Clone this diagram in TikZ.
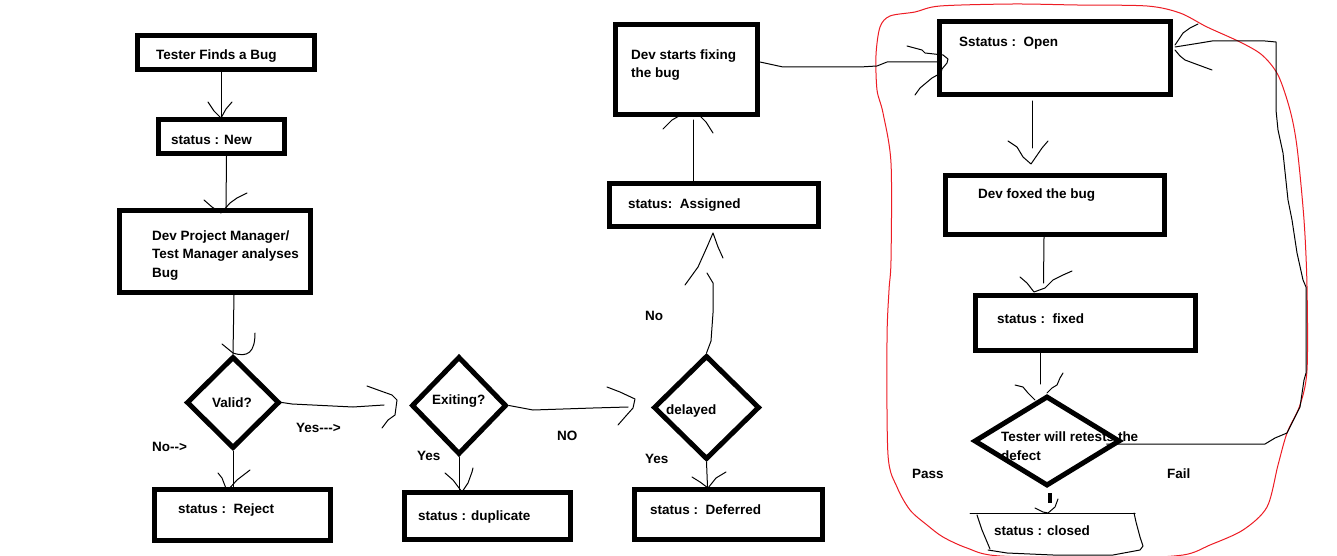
\documentclass[tikz,border=0pt]{standalone}
\usepackage{fontspec}
\setmainfont{Liberation Sans}
\usetikzlibrary{shapes.geometric,calc}
\definecolor{paintred}{RGB}{237,28,36}
\begin{document}
\begin{tikzpicture}[x=1pt,y=-1pt,
  box/.style={draw, rectangle, line width=5pt, line join=miter, inner sep=0pt},
  decision/.style={draw, diamond, line width=5pt, line join=miter, inner sep=0pt},
  pen/.style={line width=1pt, line join=round, line cap=round},
  stub/.style={line width=4pt},
  lbl/.style={anchor=base west, inner sep=0pt, align=left,
    font=\fontsize{13.5}{18.5}\selectfont\bfseries},
  outline/.style={draw=paintred, line width=1pt}
]
\useasboundingbox (0,0) rectangle (1337,556);
\fill[white] (0,0) rectangle (1337,556);

% ---------- red boundary around the fixing loop ----------
\draw[outline] plot[smooth cycle, tension=0.5] coordinates {
  (880,27) (890,16) (915,12) (940,6) (1013,4) (1077,5) (1147,6) (1180,13)
  (1207,27) (1240,42) (1262,55) (1278,75) (1290,110) (1297,147) (1304,220)
  (1307,287) (1307,370) (1300,405) (1287,433) (1278,465) (1267,507)
  (1243,530) (1210,545) (1183,555) (1120,558) (1000,556) (967,548)
  (943,537) (927,525) (910,510) (897,487) (888,455) (887,340) (889,290)
  (891,260) (891,163) (883,113) (877,90) (876,55)};

% ---------- boxes ----------
\node[box, minimum width=177pt, minimum height=34pt] (tester)   at (226,52.5)   {};
\node[box, minimum width=126pt, minimum height=34pt] (new)      at (221.5,136.5) {};
\node[box, minimum width=191pt, minimum height=82pt] (devpm)    at (215,251.5)  {};
\node[box, minimum width=176pt, minimum height=51pt] (reject)   at (242.5,515)  {};
\node[box, minimum width=166pt, minimum height=47pt] (dup)      at (487.5,516)  {};
\node[box, minimum width=188pt, minimum height=50pt] (deferred) at (728.5,514.5) {};
\node[box, minimum width=209pt, minimum height=43pt] (assigned) at (714,205)    {};
\node[box, minimum width=142pt, minimum height=90pt] (devfix)   at (686.5,69.5) {};
\node[box, minimum width=231pt, minimum height=73pt] (open)     at (1055,58)    {};
\node[box, minimum width=219pt, minimum height=59pt] (foxed)    at (1055,205)   {};
\node[box, minimum width=220pt, minimum height=55pt] (fixed)    at (1085.5,323) {};

% ---------- decisions ----------
\node[decision, minimum width=93pt,  minimum height=92pt]  (valid)   at (233,402.5)  {};
\node[decision, minimum width=95pt,  minimum height=98pt]  (exiting) at (459,405.5)  {};
\node[decision, minimum width=106pt, minimum height=104pt] (delayed) at (706.5,407.5) {};
\node[decision, minimum width=146pt, minimum height=90pt]  (retest)  at (1047,441)   {};

% ---------- closed (hand drawn outline) ----------
\coordinate (closedtop) at (1048,513);
\draw[pen] (970,513) -- (1135,513);
\draw[pen] (977,515) -- (982,530) -- (990,549);
\draw[pen] (988,550) -- (1007,553) -- (1053,555) -- (1113,555) -- (1140,550) -- (1143,546)
  -- (1140,537) -- (1136,522) -- (1134,513);

% ---------- texts (multi-line texts are placed by their last baseline) ----------
\node[lbl] (tTester)   at (156,60)   {Tester Finds a Bug};
\node[lbl] (tNew)      at (171,145)  {status : New};
\node[lbl] (tDevpm)    at (152,277)  {Dev Project Manager/\\Test Manager analyses\\Bug};
\node[lbl] (tValid)    at (212,407)  {Valid?};
\node[lbl] (tNo1)      at (152,451)  {No{-}{-}>};
\node[lbl] (tYes1)     at (296,432)  {Yes{-}{-}{-}>};
\node[lbl] (tReject)   at (178,513)  {status :\ \ Reject};
\node[lbl] (tExiting)  at (432,404)  {Exiting?};
\node[lbl] (tNO)       at (557,440)  {NO};
\node[lbl] (tYes2)     at (417,460)  {Yes};
\node[lbl] (tDup)      at (418,520)  {status : duplicate};
\node[lbl] (tDelayed)  at (666,414)  {delayed};
\node[lbl] (tYes3)     at (645,463)  {Yes};
\node[lbl] (tDeferred) at (650,514)  {status :\ \ Deferred};
\node[lbl] (tNo2)      at (645,320)  {No};
\node[lbl] (tAssigned) at (628,208)  {status:\ \ Assigned};
\node[lbl] (tDevfix)   at (631,78)   {Dev starts fixing\\the bug};
\node[lbl] (tOpen)     at (959,47)   {Sstatus :\ \ Open};
\node[lbl] (tFoxed)    at (978,198)  {Dev foxed the bug};
\node[lbl] (tFixed)    at (997,323)  {status :\ \ fixed};
\node[lbl] (tRetest)   at (1001,460) {Tester will retests the\\defect};
\node[lbl] (tPass)     at (912,478)  {Pass};
\node[lbl] (tFail)     at (1167,478) {Fail};
\node[lbl] (tClosed)   at (994,535)  {status : closed};

% ---------- connectors ----------
% Tester Finds a Bug -> status : New
\draw[pen] (tester.south -| new.north) -- (new.north);
\draw[pen] (208,102) -- (214,111) -- (221,118) -- (226,109) -- (232,102);

% status : New -> Dev PM
\draw[pen] ($(new.south)+(5,0)$) -- ($(devpm.north)+(11,0)$);
\draw[pen] (204,200) -- (212,207) -- (221,213) -- (230,203) -- (237,198) -- (247,193);

% Dev PM -> Valid?
\draw[pen] ($(devpm.south)+(19,0)$) -- (valid.north);
\draw[pen] (222,344) -- (233,353) .. controls (248,358) and (255,352) .. (255,333);

% Valid? -> Reject
\draw[pen] (valid.south) -- (valid.south |- reject.north);
\draw[pen] (218,473) -- (222,478) -- (227,491) -- (237,480) -- (250,470);

% Valid? -> Exiting?
\coordinate (validhead) at (384,405);
\draw[pen] (valid.east) -- (292,404) -- (353,407) -- (validhead);
\draw[pen] (367,386) -- (378,390) -- (392,395) -- (397,400) -- (395,415) -- (388,420) -- (382,428);

% Exiting? -> duplicate
\draw[pen] (exiting.south) -- (exiting.south |- dup.north);
\draw[pen] (445,473) -- (453,480) -- (462,492) -- (468,483) -- (472,472) -- (473,468);

% Exiting? -> delayed
\coordinate (exitinghead) at (628,407);
\draw[pen] (exiting.east) -- (533,410) -- (593,408) -- (exitinghead);
\draw[pen] (607,387) -- (620,392) -- (635,399) -- (633,408) -- (625,417) -- (618,425);

% delayed -> Deferred
\draw[pen] (delayed.south) -- ($(deferred.north)+(-21,0)$);
\draw[pen] (692,477) -- (700,482) -- (708,488) -- (716,478) -- (726,472);

% delayed -> Assigned
\coordinate (delayedup) at (707,273);
\draw[pen] (delayed.north) -- (711,341) -- (713,313) -- (713,283) -- (delayedup);
\draw[pen] (685,285) -- (698,267) -- (707,247) -- (713,233) -- (718,247) -- (723,258);

% Assigned -> Dev starts fixing
\draw[pen] ($(assigned.north)+(-21,0)$) -- ($(devfix.south)+(6.5,3)$);
\draw[pen] (663,129) -- (672,120) -- (679,116);
\draw[pen] (700,116) -- (706,122) -- (713,133);

% Dev starts fixing -> Open
\draw[pen] ($(devfix.east)+(0,-7.5)$) -- (783,67) -- (860,67) -- (877,66) -- (887,62)
  -- ($(open.west)+(0,4)$);
\draw[pen] (907,46) -- (922,50) -- (925,53) -- (943,55) -- (948,59) -- (947,63)
  -- (942,69) -- (941,73) -- (932,78) -- (920,88) -- (915,95);

% Open -> Dev foxed the bug
\draw[pen] ($(open.south)+(-23,4)$) -- ($(foxed.north)+(-23,-25)$);
\draw[pen] (1008,141) -- (1017,147) -- (1023,157) -- (1031,164) -- (1042,148) -- (1048,141);

% Dev foxed the bug -> fixed
\draw[pen] ($(foxed.south)+(-11,0)$) -- ($(fixed.north)+(-42,-10)$);
\draw[pen] (1020,277) -- (1027,283) -- (1034,292) -- (1045,288) -- (1053,280) -- (1063,275) -- (1072,271);

% fixed -> retest
\coordinate (fixeddown) at (1040,384);
\draw[pen] ($(fixed.south)+(-45.5,0)$) -- (fixeddown);
\draw[pen] (1015,385) -- (1023,387) -- (1028,393) -- (1035,400);
\draw[pen] (1047,393) -- (1052,388) -- (1057,385) -- (1060,378) -- (1063,373);

% retest -> closed (Pass)
\draw[stub] ($(retest.south)+(3,4.5)$) -- ++(0,10);
\draw[pen] (1035,508) -- (1043,512) -- (closedtop) -- (1055,507) -- (1058,499);

% retest -> Open (Fail)
\draw[pen] ($(retest.east)+(-16,3)$) -- (1265,444) -- (1275,438) -- (1287,433) -- (1300,407)
  -- (1304,380) -- (1306,373) -- (1306,287) -- (1303,280) -- (1297,253) -- (1292,220)
  -- (1288,200) -- (1283,153) -- (1278,130) -- (1276,110) -- (1276,42) -- (1265,41)
  -- (1212,41) -- (1200,43) -- ($(open.east)+(2,-11)$);
\draw[pen] (1175,45) -- (1183,33) -- (1190,28) -- (1198,24);
\draw[pen] (1175,50) -- (1180,56) -- (1185,60) -- (1193,63) -- (1212,70);
\end{tikzpicture}
\end{document}
